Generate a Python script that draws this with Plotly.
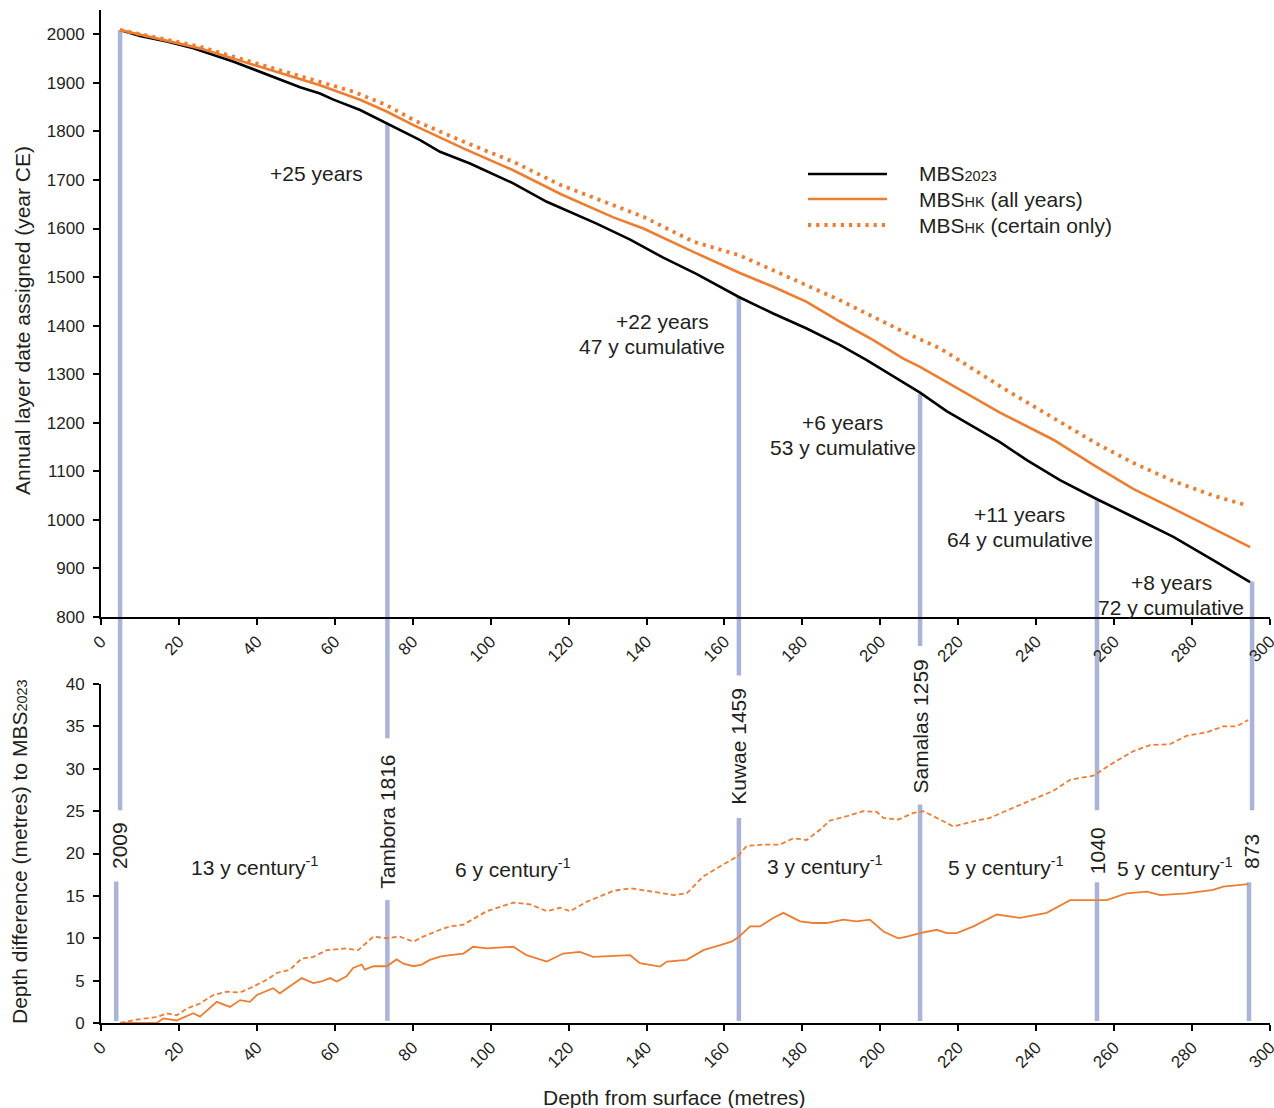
import plotly.graph_objects as go

# ---------------- data ----------------
# Top panel: annual layer date (year CE) vs depth (m)
depth_2023 = [4.9, 10.0, 16.9, 23.7, 33.9, 45.1, 51.1, 56.2, 59.5, 66.5, 73.3, 81.9, 87.0, 94.7,
              105.8, 114.4, 127.2, 135.8, 139.2, 144.3, 152.9, 163.7, 172.5, 181.1, 189.7,
              196.5, 210.2, 217.0, 230.7, 237.6, 246.1, 255.5, 264.9, 275.2, 285.4, 294.9]
year_2023 = [2009, 1996.5, 1985, 1971, 1944, 1909, 1891, 1878, 1866, 1844, 1817, 1782, 1758, 1734,
             1693, 1655, 1610, 1577, 1562, 1540, 1506, 1459, 1425, 1394, 1360,
             1329, 1262, 1224, 1160, 1123, 1082, 1043, 1006, 965, 917, 872]

depth_hk_all = [4.9, 16.9, 25.4, 33.9, 45.9, 56.2, 66.5, 73.3, 80.2, 93.0, 105.8, 118.2, 131.5,
                139.2, 152.0, 163.8, 172.5, 181.1, 189.7, 198.2, 205.9, 210.2, 230.7, 244.4,
                255.5, 264.9, 275.2, 285.4, 294.9]
year_hk_all = [2009, 1987, 1971, 1950, 1920, 1895, 1865, 1841, 1813, 1765, 1720, 1670, 1623,
               1600, 1552, 1509, 1480, 1449, 1408, 1370, 1332, 1315, 1221, 1165,
               1109, 1064, 1023, 982, 944]

depth_hk_certain = [4.9, 16.9, 25.4, 33.9, 45.9, 56.2, 64.7, 73.3, 80.2, 93.0, 105.8, 117.8, 131.5,
                    139.2, 152.0, 163.8, 172.5, 181.1, 189.7, 198.2, 206.8, 215.4, 232.4, 255.5,
                    265.0, 275.2, 285.4, 294.0]
year_hk_certain = [2009, 1988, 1974.5, 1954, 1927, 1902, 1882, 1854, 1823.5, 1779, 1737.5, 1690, 1648,
                   1624, 1573, 1545, 1514, 1483, 1452, 1418, 1384, 1353, 1267, 1157,
                   1117, 1080, 1050, 1030]

# Bottom panel: depth difference (m) to MBS2023
depth_diff_all = [4.9, 14.3, 16.0, 19.4, 23.7, 25.4, 29.7, 33.1, 35.7, 38.2, 40.0, 44.2, 45.9, 48.5,
                  51.5, 54.5, 56.6, 58.8, 60.5, 63.0, 64.7, 66.9, 67.7, 69.9, 73.3, 75.9, 77.6,
                  80.2, 82.3, 84.4, 87.0, 89.6, 93.0, 95.5, 99.0, 105.8, 109.2, 114.4, 118.6,
                  122.9, 126.3, 135.8, 138.3, 143.5, 145.2, 150.3, 154.6, 158.9, 161.8, 163.5,
                  166.6, 169.1, 172.5, 175.1, 179.4, 182.8, 186.2, 190.5, 193.9, 197.3, 200.8,
                  204.6, 206.8, 210.2, 214.5, 217.0, 219.6, 223.9, 229.9, 235.8, 242.7, 248.7,
                  252.9, 258.1, 263.2, 268.4, 271.8, 278.6, 282.0, 285.4, 288.0, 292.3, 294.4]
diff_all = [0.0, 0.0, 0.55, 0.3, 1.15, 0.75, 2.5, 1.9, 2.7, 2.5, 3.3, 4.1, 3.5, 4.3,
            5.3, 4.7, 4.9, 5.3, 4.9, 5.5, 6.5, 6.9, 6.3, 6.7, 6.7, 7.5, 7.0,
            6.7, 6.9, 7.45, 7.84, 8.0, 8.2, 9.0, 8.8, 9.0, 8.0, 7.25, 8.2,
            8.4, 7.8, 8.0, 7.06, 6.66, 7.25, 7.45, 8.6, 9.2, 9.6, 10.1,
            11.4, 11.4, 12.4, 13.0, 12.0, 11.8, 11.8, 12.2, 12.0, 12.2, 10.8,
            10.0, 10.2, 10.6, 11.0, 10.6, 10.6, 11.4, 12.8, 12.4, 13.0, 14.5,
            14.5, 14.5, 15.3, 15.5, 15.1, 15.3, 15.5, 15.7, 16.1, 16.3, 16.4]

depth_diff_certain = [4.9, 9.1, 14.3, 16.9, 19.4, 22.0, 25.4, 28.8, 32.3, 35.7, 39.1, 42.5, 45.1,
                      48.5, 51.5, 54.5, 57.9, 63.0, 66.0, 69.9, 73.3, 76.7, 80.2, 82.7, 87.0,
                      89.6, 93.0, 99.0, 105.8, 110.1, 114.4, 117.8, 120.4, 124.6, 131.5, 135.8,
                      141.7, 146.9, 150.3, 154.6, 158.9, 163.5, 165.7, 170.0, 174.2, 177.7,
                      181.1, 184.5, 187.1, 191.4, 195.6, 199.1, 200.8, 204.6, 208.5, 211.0,
                      214.5, 218.7, 223.9, 228.1, 234.1, 239.3, 244.4, 248.7, 254.7, 259.8,
                      265.0, 269.2, 274.3, 278.6, 283.7, 288.0, 291.4, 294.4]
diff_certain = [0.0, 0.4, 0.7, 1.15, 0.9, 1.7, 2.3, 3.3, 3.7, 3.6, 4.3, 5.1, 5.9,
                6.3, 7.6, 7.8, 8.6, 8.8, 8.6, 10.2, 10.0, 10.2, 9.6, 10.2, 11.0,
                11.4, 11.6, 13.2, 14.2, 14.0, 13.2, 13.6, 13.2, 14.3, 15.6, 15.9,
                15.5, 15.1, 15.3, 17.3, 18.5, 19.7, 20.9, 21.05, 21.05, 21.8,
                21.6, 22.8, 23.9, 24.4, 25.0, 24.9, 24.2, 24.0, 24.8, 25.0,
                24.2, 23.2, 23.8, 24.2, 25.4, 26.4, 27.4, 28.7, 29.2, 30.7,
                32.1, 32.8, 32.9, 33.9, 34.3, 35.0, 35.0, 35.75]

# Tie-point events
event_labels = ["2009", "Tambora 1816", "Kuwae 1459", "Samalas 1259", "1040", "873"]
event_depth_upper = [4.9, 73.5, 163.7, 210.2, 255.6, 295.4]
event_depth_lower = [3.9, 73.5, 163.7, 210.2, 255.6, 294.6]
event_year = [2009, 1816, 1459, 1259, 1040, 873]
event_upper_end = [25.1, 33.6, 41.0, 44.5, 25.1, 25.1]   # in depth-difference units
event_lower_top = [16.7, 14.5, 24.2, 25.8, 16.6, 16.6]
event_label_pos = [20.9, 23.8, 32.7, 35.0, 20.4, 20.2]

# Interval annotations (top panel)
offset_text = ["+25 years", "+22 years", "47 y cumulative", "+6 years", "53 y cumulative",
               "+11 years", "64 y cumulative", "+8 years", "72 y cumulative"]
offset_depth = [55.4, 144.2, 141.4, 190.4, 190.4, 235.8, 235.8, 274.6, 274.6]
offset_year = [1714, 1409, 1358, 1201, 1150, 1011, 960, 871, 819]

# Rates (bottom panel)
rate_text = ["13 y century<sup>-1</sup>", "6 y century<sup>-1</sup>", "3 y century<sup>-1</sup>",
             "5 y century<sup>-1</sup>", "5 y century<sup>-1</sup>"]
rate_depth = [39.5, 105.8, 185.8, 232.2, 275.6]
rate_value = [18.5, 18.3, 18.6, 18.5, 18.4]

# ---------------- styling / layout ----------------
FONT = "Liberation Sans, Arial, Helvetica, sans-serif"
TXT = "#231f20"
ORANGE = "#ed7d31"
EVENT = "#a9b4d8"
DOTS = "3.2px,5px"

W, H = 1274, 1108
ML, MR, MT, MB = 101, 4, 10, 85
TOP_DOM = [0.4008, 1.0]
BOT_DOM = [0.0, 0.3346]
TOP_RANGE = [800, 2050]
BOT_RANGE = [0, 40]
X_RANGE = [0, 300]


def top_paper(v):
    return TOP_DOM[0] + (v - TOP_RANGE[0]) / (TOP_RANGE[1] - TOP_RANGE[0]) * (TOP_DOM[1] - TOP_DOM[0])


def bot_paper(v):
    return BOT_DOM[0] + (v - BOT_RANGE[0]) / (BOT_RANGE[1] - BOT_RANGE[0]) * (BOT_DOM[1] - BOT_DOM[0])


def px_x(p):
    return (p - ML) / (W - ML - MR)


def px_y(p):
    return (H - MB - p) / (H - MT - MB)


fig = go.Figure()

fig.add_trace(go.Scatter(x=depth_2023, y=year_2023, mode="lines", name="MBS2023",
                         line=dict(color="black", width=2.6), xaxis="x", yaxis="y",
                         showlegend=False))
fig.add_trace(go.Scatter(x=depth_hk_all, y=year_hk_all, mode="lines", name="MBSHK (all years)",
                         line=dict(color=ORANGE, width=2.6), xaxis="x", yaxis="y",
                         showlegend=False))
fig.add_trace(go.Scatter(x=depth_hk_certain, y=year_hk_certain, mode="lines",
                         name="MBSHK (certain only)",
                         line=dict(color=ORANGE, width=3.8, dash=DOTS),
                         xaxis="x", yaxis="y", showlegend=False))
fig.add_trace(go.Scatter(x=depth_diff_all, y=diff_all, mode="lines", name="all years",
                         line=dict(color=ORANGE, width=1.8), xaxis="x2", yaxis="y2",
                         showlegend=False))
fig.add_trace(go.Scatter(x=depth_diff_certain, y=diff_certain, mode="lines", name="certain only",
                         line=dict(color=ORANGE, width=1.8, dash="5px,3px"),
                         xaxis="x2", yaxis="y2", showlegend=False))

shapes = []
annotations = []

# event lines and labels
for i, lab in enumerate(event_labels):
    shapes.append(dict(type="line", xref="x", yref="paper", layer="below",
                       x0=event_depth_upper[i], x1=event_depth_upper[i],
                       y0=top_paper(event_year[i]), y1=bot_paper(event_upper_end[i]),
                       line=dict(color=EVENT, width=4.5)))
    shapes.append(dict(type="line", xref="x", yref="paper", layer="below",
                       x0=event_depth_lower[i], x1=event_depth_lower[i],
                       y0=bot_paper(0.25), y1=bot_paper(event_lower_top[i]),
                       line=dict(color=EVENT, width=4.5)))
    annotations.append(dict(x=event_depth_upper[i], y=bot_paper(event_label_pos[i]),
                            xref="x", yref="paper", text=lab, textangle=-90,
                            showarrow=False, xanchor="center", yanchor="middle",
                            font=dict(family=FONT, size=21, color=TXT)))

for t, d, y in zip(offset_text, offset_depth, offset_year):
    annotations.append(dict(x=d, y=y, xref="x", yref="y", text=t, showarrow=False,
                            xanchor="center", yanchor="middle",
                            font=dict(family=FONT, size=21, color=TXT)))

for t, d, v in zip(rate_text, rate_depth, rate_value):
    annotations.append(dict(x=d, y=v, xref="x2", yref="y2", text=t, showarrow=False,
                            xanchor="center", yanchor="middle",
                            font=dict(family=FONT, size=21, color=TXT)))

# manual legend
SUB = '<span style="font-size:14.5px">{}</span>'
legend_items = [("MBS" + SUB.format("2023"), dict(color="black", width=2.6)),
                ("MBS" + SUB.format("HK") + " (all years)", dict(color=ORANGE, width=2.6)),
                ("MBS" + SUB.format("HK") + " (certain only)",
                 dict(color=ORANGE, width=3.8, dash=DOTS))]
legend_rows = [174, 199, 225]
for (txt, ln), row in zip(legend_items, legend_rows):
    shapes.append(dict(type="line", xref="paper", yref="paper",
                       x0=px_x(808), x1=px_x(887), y0=px_y(row), y1=px_y(row), line=ln))
    annotations.append(dict(x=px_x(917), y=px_y(row), xref="paper", yref="paper", text=txt,
                            showarrow=False, xanchor="left", yanchor="middle",
                            font=dict(family=FONT, size=21, color=TXT)))

# axis titles
annotations.append(dict(x=px_x(22), y=px_y(321), xref="paper", yref="paper",
                        text="Annual layer date assigned (year CE)", textangle=-90,
                        showarrow=False, xanchor="center", yanchor="middle",
                        font=dict(family=FONT, size=21, color=TXT)))
annotations.append(dict(x=px_x(19), y=px_y(852), xref="paper", yref="paper",
                        text="Depth difference (metres) to MBS" + SUB.format("2023"),
                        textangle=-90, showarrow=False, xanchor="center", yanchor="middle",
                        font=dict(family=FONT, size=21, color=TXT)))
annotations.append(dict(x=px_x(674), y=px_y(1097), xref="paper", yref="paper",
                        text="Depth from surface (metres)", showarrow=False,
                        xanchor="center", yanchor="middle",
                        font=dict(family=FONT, size=21, color=TXT)))

axis_common = dict(showline=True, linecolor="black", linewidth=2, ticks="outside",
                   ticklen=6, tickwidth=2, tickcolor="black", showgrid=False, zeroline=False,
                   tickfont=dict(family=FONT, size=17, color=TXT), automargin=False,
                   ticklabeloverflow="allow")

fig.update_layout(
    width=W, height=H,
    margin=dict(l=ML, r=MR, t=MT, b=MB),
    paper_bgcolor="white", plot_bgcolor="white",
    showlegend=False,
    xaxis=dict(domain=[0, 1], range=X_RANGE, anchor="y", tickmode="linear", tick0=0, dtick=20,
               tickangle=-45, **axis_common),
    yaxis=dict(domain=TOP_DOM, range=TOP_RANGE, anchor="x", tickmode="array",
               tickvals=list(range(800, 2001, 100)), ticklabelstandoff=5, **axis_common),
    xaxis2=dict(domain=[0, 1], range=X_RANGE, anchor="y2", tickmode="linear", tick0=0, dtick=20,
                tickangle=-45, **axis_common),
    yaxis2=dict(domain=BOT_DOM, range=BOT_RANGE, anchor="x2", tickmode="linear", tick0=0,
                dtick=5, ticklabelstandoff=5, **axis_common),
    shapes=shapes,
    annotations=annotations,
)

fig.write_html(
    "out.html",
    config={"displayModeBar": False},
    post_script="document.body.style.margin='0';document.body.style.overflow='hidden';",
)
